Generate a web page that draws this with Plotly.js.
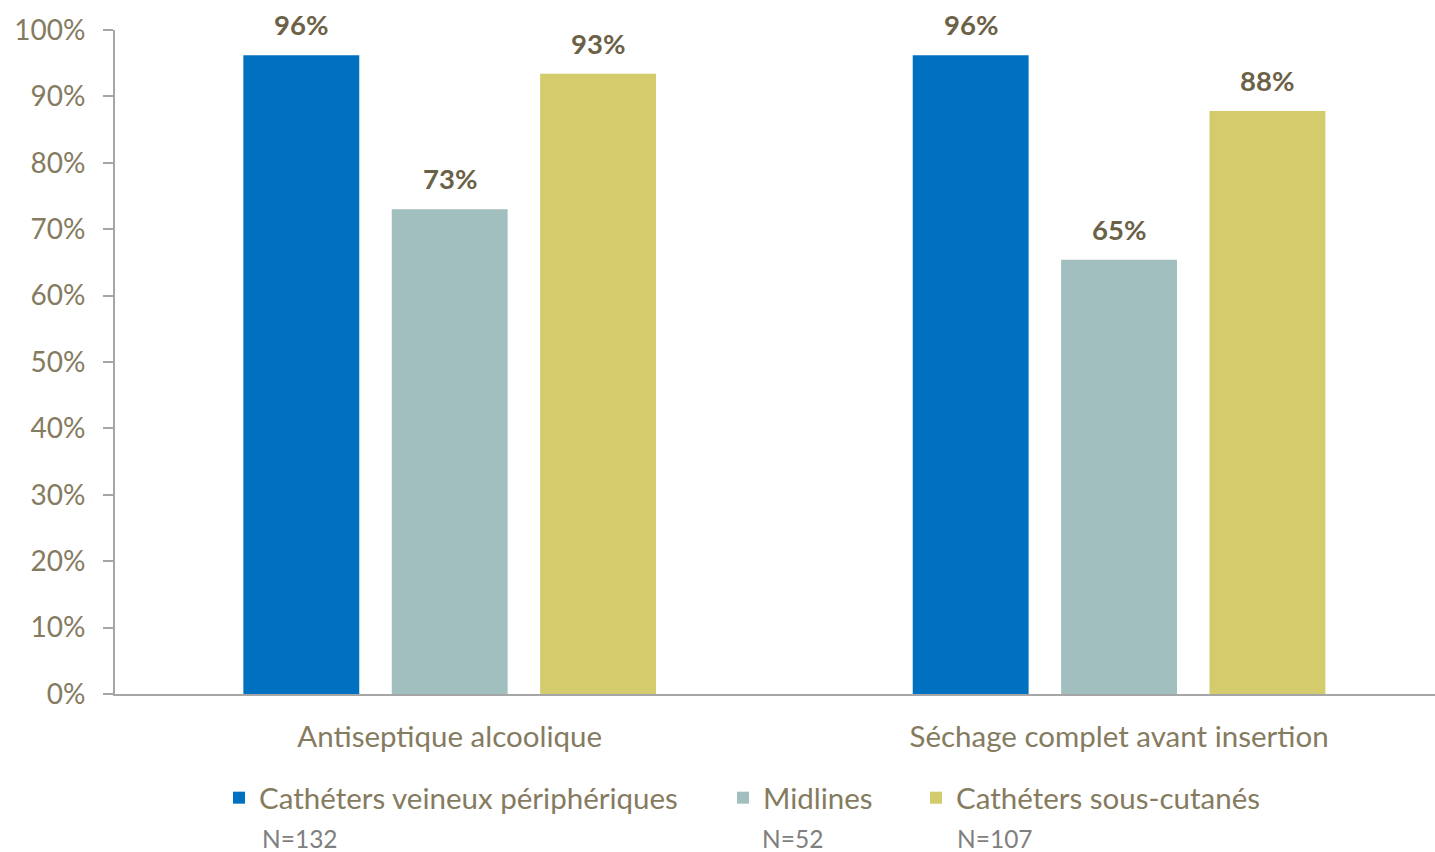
<!DOCTYPE html>
<html>
<head>
<meta charset="utf-8">
<script src="https://cdn.plot.ly/plotly-3.0.1.min.js"></script>
<style>html,body{margin:0;padding:0;background:#fff;}#chart{width:1435px;height:852px;}</style>
</head>
<body>
<div id="chart"></div>
<script>
const categories = ["Antiseptique alcoolique", "Séchage complet avant insertion"];
const seriesNames = ["Cathéters veineux périphériques", "Midlines", "Cathéters sous-cutanés"];
const seriesN = ["N=132", "N=52", "N=107"];
const cvpValues = [96.2, 96.2];
const midlineValues = [73.0, 65.4];
const souscutValues = [93.4, 87.8];
const yTicks = [0, 10, 20, 30, 40, 50, 60, 70, 80, 90, 100];

const colors = ["#0070C0", "#A0BFBE", "#D3CB6C"];
const allValues = [cvpValues, midlineValues, souscutValues];
const FONT = "Lato, 'Open Sans', sans-serif";
const bargap = 0.335;
const legendIds = ["legend", "legend2", "legend3"];
const legendX = [219, 723, 916];
const nLabelX = [260, 760, 955];

const traces = allValues.map((vals, j) => ({
  type: "bar",
  name: seriesNames[j],
  x: categories,
  y: vals,
  marker: {color: colors[j]},
  legend: legendIds[j],
  hoverinfo: "skip"
}));

const slot = (1 - bargap) / 3;
const annotations = [];
allValues.forEach((vals, j) => {
  vals.forEach((v, i) => {
    annotations.push({
      x: i + (j - 1) * slot, y: v, xref: "x", yref: "y",
      text: Math.round(v) + "%", showarrow: false,
      yanchor: "bottom", yshift: 12,
      font: {family: FONT, size: 27.5, color: "#6B6147", weight: "bold"}
    });
  });
});
seriesN.forEach((t, j) => {
  annotations.push({
    x: (nLabelX[j] - 115) / 1320, y: (852 - 838 - 158) / 664,
    xref: "paper", yref: "paper",
    text: t, showarrow: false, xanchor: "left", yanchor: "middle",
    font: {family: FONT, size: 24.5, color: "#7F7F7F"}
  });
});

const legendBase = {
  orientation: "h", xref: "container", yref: "container",
  xanchor: "left", yanchor: "middle", y: 1 - 798 / 852,
  font: {family: FONT, size: 29.5, color: "#857B5F"},
  bgcolor: "rgba(0,0,0,0)", borderwidth: 0
};

const layout = {
  width: 1435, height: 852,
  margin: {l: 115, r: 0, t: 30, b: 158},
  paper_bgcolor: "#fff", plot_bgcolor: "#fff",
  barmode: "group", bargap: bargap, bargroupgap: 0.219,
  showlegend: true,
  xaxis: {
    type: "category", range: [-0.5, 1.472],
    showline: true, linecolor: "#A6A6A6", linewidth: 2,
    ticks: "", showgrid: false, zeroline: false,
    ticklabelstandoff: 16,
    tickfont: {family: FONT, size: 29.5, color: "#857B5F"}
  },
  yaxis: {
    range: [0, 100], tickvals: yTicks, ticktext: yTicks.map(v => v + "%"),
    showline: true, linecolor: "#A6A6A6", linewidth: 2,
    ticks: "outside", ticklen: 10, tickcolor: "#A6A6A6", tickwidth: 2,
    ticklabelstandoff: 12,
    showgrid: false, zeroline: false,
    tickfont: {family: FONT, size: 28, color: "#857B5F"}
  },
  annotations: annotations
};
legendIds.forEach((id, j) => {
  layout[id] = Object.assign({}, legendBase, {x: legendX[j] / 1435});
});

Plotly.newPlot("chart", traces, layout, {displayModeBar: false, responsive: false});
</script>
</body>
</html>
